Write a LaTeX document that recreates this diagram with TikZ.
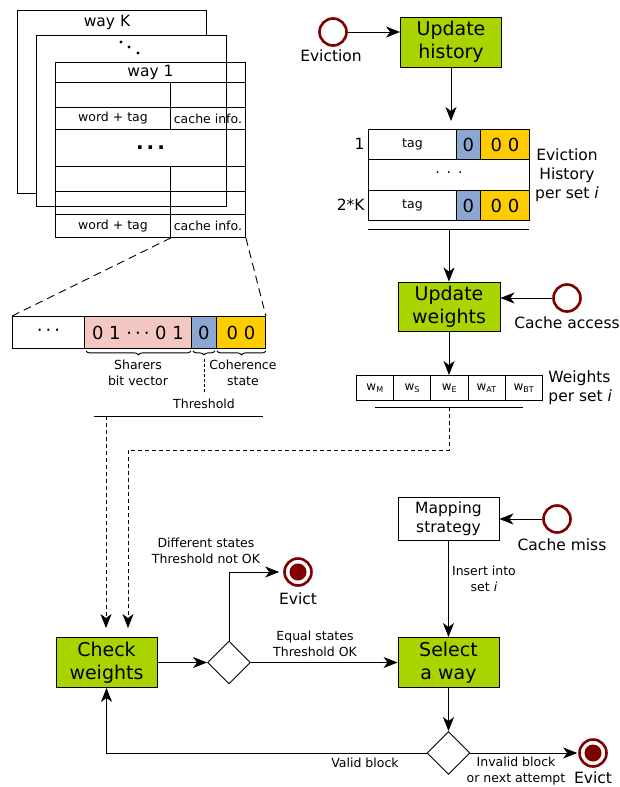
\documentclass[tikz,border=0pt]{standalone}
\usepackage{fontspec}
\setmainfont{DejaVu Sans}
\usetikzlibrary{shapes.geometric,arrows.meta,decorations.pathreplacing}
\definecolor{fgreen}{HTML}{AAD400}
\definecolor{fpink}{HTML}{F4C7C3}
\definecolor{fblue}{HTML}{8BA6D1}
\definecolor{fyellow}{HTML}{FFCC00}
\definecolor{fred}{HTML}{800000}
\newcommand{\myfs}[2]{\fontsize{#1}{#2}\selectfont}
\begin{document}
\begin{tikzpicture}[x=1pt,y=-1pt, line width=0.9pt,
  >={Stealth[length=14pt,width=11pt,inset=4pt]},
  flowbox/.style={draw, fill=fgreen, minimum width=101pt, minimum height=50pt, align=center, inner sep=0pt, font=\myfs{19}{23}},
  evc/.style={draw=fred, line width=2.6pt, fill=white, circle, minimum size=27pt, inner sep=0pt},
  endc/.style={evc, path picture={\fill[fred] (path picture bounding box.center) circle (8.5pt);}},
  cell/.style={draw, inner sep=0pt, anchor=north west, font=\myfs{12.5}{15}},
  lbl/.style={font=\myfs{15.5}{19}, align=center, inner sep=0pt},
  sml/.style={font=\myfs{12.5}{16}, align=center, inner sep=0pt},
  big/.style={font=\myfs{18}{20}},
  diam/.style={draw, diamond, fill=white, minimum width=43pt, minimum height=43pt, inner sep=0pt},
  longdash/.style={dash pattern=on 8pt off 5pt},
  flowdash/.style={dash pattern=on 4pt off 3pt}
]
\useasboundingbox (0,0) rectangle (620,787);

% ---- stacked ways ----
\node[draw, fill=white, minimum width=189pt, minimum height=183pt, anchor=north west, inner sep=0pt] (wayK) at (17,10) {};
\node[lbl] (wayKl) at (107,22) {way K};
\node[draw, fill=white, minimum width=190pt, minimum height=171pt, anchor=north west, inner sep=0pt] (wayM) at (36,35) {};
\fill (121,42) circle (1.7pt) (129,47) circle (1.7pt) (138,53) circle (1.7pt);
\node[cell, minimum width=190pt, minimum height=20pt, font=\myfs{15.5}{18}] (w1) at (55,62) {way 1};
\node[cell, minimum width=115pt, minimum height=25pt] (r1a) at (55,82) {};
\node[cell, minimum width=75pt, minimum height=25pt] (r1b) at (170,82) {};
\node[cell, minimum width=115pt, minimum height=22pt] (wt1) at (55,107) {word + tag};
\node[cell, minimum width=75pt, minimum height=22pt] (ci1) at (170,107) {cache info.};
\node[cell, minimum width=190pt, minimum height=37pt, font=\myfs{20}{20}\bfseries] (mid) at (55,129) {.\kern3pt.\kern3pt.};
\node[cell, minimum width=115pt, minimum height=25pt] (r4a) at (55,166) {};
\node[cell, minimum width=75pt, minimum height=25pt] (r4b) at (170,166) {};
\node[cell, minimum width=115pt, minimum height=23pt] (r5a) at (55,191) {};
\node[cell, minimum width=75pt, minimum height=23pt] (r5b) at (170,191) {};
\node[cell, minimum width=115pt, minimum height=23pt] (wt2) at (55,214) {word + tag};
\node[cell, minimum width=75pt, minimum height=23pt] (ci2) at (170,214) {cache info.};

% ---- bit vector ----
\node[cell, big, minimum width=72pt, minimum height=32pt] (b1) at (12,316) {·\,·\,·};
\node[cell, big, fill=fpink, minimum width=107pt, minimum height=32pt] (b2) at (84,316) {0 1 ·\,·\,· 0 1};
\node[cell, big, fill=fblue, minimum width=25pt, minimum height=32pt] (b3) at (191,316) {0};
\node[cell, big, fill=fyellow, minimum width=49pt, minimum height=32pt] (b4) at (216,316) {0 0};
\draw[longdash] (wt2.south east) -- (b1.north west);
\draw[longdash] (ci2.south east) -- (b4.north east);
\draw[decorate, decoration={brace, mirror, amplitude=4pt}] ([xshift=2pt,yshift=-2pt]b2.south west) -- ([xshift=-1pt,yshift=-2pt]b2.south east);
\draw[decorate, decoration={brace, mirror, amplitude=4pt}] ([xshift=2pt,yshift=-2pt]b3.south west) -- ([xshift=-2pt,yshift=-2pt]b3.south east);
\draw[decorate, decoration={brace, mirror, amplitude=4pt}] ([xshift=1pt,yshift=-2pt]b4.south west) -- ([xshift=0pt,yshift=-2pt]b4.south east);
\node[sml] (shl) at (138,373) {Sharers\\bit vector};
\node[sml] (csl) at (243,373) {Coherence\\state};
\draw[densely dashed] ([yshift=-10pt]b3.south) -- ([yshift=-45pt]b3.south);
\node[sml] (thl) at (204,404) {Threshold};
\coordinate (thA) at (94,416);
\coordinate (thB) at (263,416);
\draw (thA) -- (thB);

% ---- right column ----
\node[flowbox] (uh) at (451,42) {Update\\history};
\node[evc] (ev0) at (333,32) {};
\node[lbl] (ev0l) at (331,56) {Eviction};
\draw[->] (ev0.east) -- (ev0.east -| uh.west);

\node[cell, minimum width=88pt, minimum height=30pt] (h1t) at (368,129) {tag};
\node[cell, big, fill=fblue, minimum width=24pt, minimum height=30pt] (h1b) at (456,129) {0};
\node[cell, big, fill=fyellow, minimum width=49pt, minimum height=30pt] (h1y) at (480,129) {0 0};
\node[cell, font=\myfs{14}{14}, minimum width=161pt, minimum height=31pt] (h2) at (368,159) {·\hspace{7pt}·\hspace{7pt}·};
\node[cell, minimum width=88pt, minimum height=30pt] (h3t) at (368,190) {tag};
\node[cell, big, fill=fblue, minimum width=24pt, minimum height=30pt] (h3b) at (456,190) {0};
\node[cell, big, fill=fyellow, minimum width=49pt, minimum height=30pt] (h3y) at (480,190) {0 0};
\node[lbl, anchor=east] (n1) at (365,144) {1};
\node[lbl, anchor=east] (n2k) at (365,205) {2*K};
\node[lbl] (ehl) at (567,175) {Eviction\\History\\per set \textit{i}};
\draw[->, shorten >=8pt] (uh.south) -- (uh.south |- h1t.north);
\coordinate (hlA) at (368,229);
\coordinate (hlB) at (529,229);
\draw (hlA) -- (hlB);

\node[flowbox, minimum width=102pt, minimum height=49pt] (uw) at (449,306.5) {Update\\weights};
\node[evc] (ca) at (567,298) {};
\node[lbl] (cal) at (567,323) {Cache access};
\draw[->] (uw.north |- hlA) -- (uw.north);
\draw[->] (ca.west) -- (ca.west -| uw.east);

\node[cell, font=\myfs{12}{12}, minimum width=37.2pt, minimum height=25pt] (wM) at (356,375) {w\textsubscript{M}};
\node[cell, font=\myfs{12}{12}, minimum width=37.2pt, minimum height=25pt] (wS) at (393.2,375) {w\textsubscript{S}};
\node[cell, font=\myfs{12}{12}, minimum width=37.2pt, minimum height=25pt] (wE) at (430.4,375) {w\textsubscript{E}};
\node[cell, font=\myfs{12}{12}, minimum width=37.2pt, minimum height=25pt] (wAT) at (467.6,375) {w\textsubscript{AT}};
\node[cell, font=\myfs{12}{12}, minimum width=37.2pt, minimum height=25pt] (wBT) at (504.8,375) {w\textsubscript{BT}};
\node[lbl, align=left, anchor=west] (wpl) at (548,388) {Weights\\per set \textit{i}};
\draw[->] (uw.south) -- (uw.south |- wE.north);
\coordinate (wlA) at (375,407);
\coordinate (wlB) at (523,407);
\draw (wlA) -- (wlB);
\coordinate (wl) at (449,407);

% ---- lower flow ----
\node[flowbox] (cw) at (106.5,662.5) {Check\\weights};
\node[diam] (d1) at (229,662.5) {};
\node[endc] (ev1) at (298,572) {};
\node[lbl] (ev1l) at (298,599) {Evict};
\node[draw, fill=white, minimum width=101pt, minimum height=43pt, align=center, inner sep=0pt, font=\myfs{15.5}{19}] (map) at (448.5,518.5) {Mapping\\strategy};
\node[evc] (cm) at (557,519) {};
\node[lbl] (cml) at (562,545) {Cache miss};
\node[flowbox] (sel) at (448.5,662.5) {Select\\a way};
\node[diam] (d2) at (448.5,753) {};
\node[endc] (ev2) at (593,753) {};
\node[lbl] (ev2l) at (593,778) {Evict};

\coordinate (thx) at (106,416);
\draw[flowdash, ->, shorten >=9pt] (thx) -- (thx |- cw.north);
\coordinate (wc) at (128,450);
\draw[flowdash, ->, shorten >=9pt] (wl) |- (wc) -- (wc |- cw.north);

\draw[->] (cw.east) -- (d1.west);
\draw[->] (d1.north) |- ([xshift=-4pt]ev1.west);
\draw[->] (d1.east) -- (sel.west);
\draw[->] (cm.west) -- (cm.west -| map.east);
\draw[->] (map.south) -- (sel.north);
\draw[->] (sel.south) -- (d2.north);
\draw[->] (d2.east) -- ([xshift=-1pt]ev2.west);
\draw[->] (d2.west) -| (cw.south);

\node[sml] (dsl) at (206,551) {Different states\\Threshold not OK};
\node[sml] (esl) at (315,644) {Equal states\\Threshold OK};
\node[sml] (isl) at (484,579) {Insert into\\set \textit{i}};
\node[sml] (vbl) at (365,763) {Valid block};
\node[sml] (ibl) at (516,771) {Invalid block\\or next attempt};
\end{tikzpicture}
\end{document}
